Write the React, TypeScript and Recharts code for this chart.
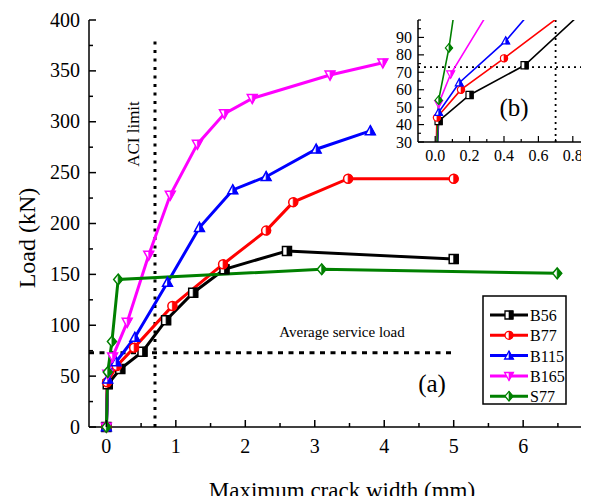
import React from "react";
import { LineChart, Line, XAxis, YAxis, ReferenceLine } from "recharts";

// crack width (mm) / load (kN)
const b56Width = [0, 0.02, 0.2, 0.52, 0.86, 1.25, 1.7, 2.6, 5.0];
const b56Load = [0, 42, 57, 74, 105, 132, 155, 173, 165];
const b77Width = [0, 0.01, 0.15, 0.4, 0.95, 1.68, 2.3, 2.69, 3.48, 5.0];
const b77Load = [0, 44, 60, 78, 119, 160, 193, 221, 244, 244];
const b115Width = [0, 0.02, 0.14, 0.41, 0.88, 1.34, 1.82, 2.3, 3.02, 3.8];
const b115Load = [0, 47, 64, 88, 142, 196, 233, 246, 273, 291];
const b165Width = [0, 0.02, 0.09, 0.3, 0.61, 0.92, 1.31, 1.7, 2.1, 3.22, 3.98];
const b165Load = [0, 52, 69, 103, 169, 228, 278, 308, 323, 346, 358];
const s77Width = [0, 0.02, 0.08, 0.17, 3.1, 6.49];
const s77Load = [0, 54, 84, 145, 155, 151];

const mainXTicks = [0, 0.5, 1, 1.5, 2, 2.5, 3, 3.5, 4, 4.5, 5, 5.5, 6, 6.5, 7];
const mainYTicks = [0, 25, 50, 75, 100, 125, 150, 175, 200, 225, 250, 275, 300, 325, 350, 375, 400];
const insetXTicks = [0, 0.1, 0.2, 0.3, 0.4, 0.5, 0.6, 0.7, 0.8];
const insetYTicks = [30, 35, 40, 45, 50, 55, 60, 65, 70, 75, 80, 85, 90, 95, 100];
const insetYLabels = [30, 40, 50, 60, 70, 80, 90];
const insetXLabels = [0, 0.2, 0.4, 0.6, 0.8];

const serviceLoad = 73;
const aciLimit = 0.7;

const zip = (xs: number[], ys: number[]) => xs.map((x, i) => ({ x, y: ys[i] }));

const series = [
  { name: "B56", color: "#000000", shape: "square", data: zip(b56Width, b56Load) },
  { name: "B77", color: "#ff0000", shape: "circle", data: zip(b77Width, b77Load) },
  { name: "B115", color: "#0000ff", shape: "up", data: zip(b115Width, b115Load) },
  { name: "B165", color: "#ff00ff", shape: "down", data: zip(b165Width, b165Load) },
  { name: "S77", color: "#008000", shape: "diamond", data: zip(s77Width, s77Load) },
];

const serif = { fontFamily: '"Liberation Serif", "DejaVu Serif", serif' };

function Marker({ cx, cy, r, shape, color, sw }: any) {
  if (cx == null || cy == null) return null;
  let outline = "";
  let half = "";
  if (shape === "square") {
    outline = `M${cx - r},${cy - r}H${cx + r}V${cy + r}H${cx - r}Z`;
    half = `M${cx},${cy - r}H${cx + r}V${cy + r}H${cx}Z`;
  } else if (shape === "circle") {
    outline = `M${cx - r},${cy}A${r},${r} 0 1 0 ${cx + r},${cy}A${r},${r} 0 1 0 ${cx - r},${cy}Z`;
    half = `M${cx},${cy - r}A${r},${r} 0 0 1 ${cx},${cy + r}Z`;
  } else if (shape === "up") {
    outline = `M${cx},${cy - r * 1.15}L${cx + r * 1.1},${cy + r * 0.85}L${cx - r * 1.1},${cy + r * 0.85}Z`;
    half = `M${cx},${cy - r * 1.15}L${cx + r * 1.1},${cy + r * 0.85}L${cx},${cy + r * 0.85}Z`;
  } else if (shape === "down") {
    outline = `M${cx},${cy + r * 1.15}L${cx + r * 1.1},${cy - r * 0.85}L${cx - r * 1.1},${cy - r * 0.85}Z`;
    half = `M${cx},${cy + r * 1.15}L${cx + r * 1.1},${cy - r * 0.85}L${cx},${cy - r * 0.85}Z`;
  } else {
    outline = `M${cx},${cy - r * 1.2}L${cx + r},${cy}L${cx},${cy + r * 1.2}L${cx - r},${cy}Z`;
    half = `M${cx},${cy - r * 1.2}L${cx + r},${cy}L${cx},${cy + r * 1.2}Z`;
  }
  return (
    <g>
      <path d={outline} fill="#fff" stroke={color} strokeWidth={sw} />
      <path d={half} fill={color} stroke={color} strokeWidth={sw * 0.5} />
    </g>
  );
}

const makeDot = (shape: string, color: string, r: number, sw: number) => (p: any) => (
  <Marker key={`d-${p.index}`} cx={p.cx} cy={p.cy} r={r} shape={shape} color={color} sw={sw} />
);

function MainXTick({ x, y, payload }: any) {
  const major = Number.isInteger(payload.value);
  return (
    <g>
      <line x1={x} x2={x} y1={y} y2={y - (major ? 7 : 4)} stroke="#000" strokeWidth={1.5} />
      {major && (
        <text x={x} y={y + 26} textAnchor="middle" fontSize={20} style={serif} fill="#000">
          {payload.value}
        </text>
      )}
    </g>
  );
}

function MainTopTick({ x, y, payload }: any) {
  const major = Number.isInteger(payload.value);
  return <line x1={x} x2={x} y1={y} y2={y + (major ? 7 : 4)} stroke="#000" strokeWidth={1.5} />;
}

function MainYTick({ x, y, payload }: any) {
  const major = payload.value % 50 === 0;
  return (
    <g>
      <line x1={x} x2={x + (major ? 7 : 4)} y1={y} y2={y} stroke="#000" strokeWidth={1.5} />
      {major && (
        <text x={x - 9} y={y + 6.5} textAnchor="end" fontSize={20} style={serif} fill="#000">
          {payload.value}
        </text>
      )}
    </g>
  );
}

function InsetXTick({ x, y, payload }: any) {
  const major = insetXLabels.includes(payload.value);
  return (
    <g>
      <line x1={x} x2={x} y1={y} y2={y - (major ? 6 : 3)} stroke="#000" strokeWidth={1.2} />
      {major && (
        <text x={x} y={y + 19} textAnchor="middle" fontSize={16} style={serif} fill="#000">
          {payload.value.toFixed(1)}
        </text>
      )}
    </g>
  );
}

function InsetTopTick({ x, y, payload }: any) {
  const major = insetXLabels.includes(payload.value);
  return <line x1={x} x2={x} y1={y} y2={y + (major ? 6 : 3)} stroke="#000" strokeWidth={1.2} />;
}

function InsetYTick({ x, y, payload }: any) {
  const major = insetYLabels.includes(payload.value);
  return (
    <g>
      <line x1={x} x2={x + (major ? 6 : 3)} y1={y} y2={y} stroke="#000" strokeWidth={1.2} />
      {major && (
        <text x={x - 6} y={y + 5.5} textAnchor="end" fontSize={16} style={serif} fill="#000">
          {payload.value}
        </text>
      )}
    </g>
  );
}

export default function App() {
  return (
    <div style={{ position: "relative", width: 589, height: 504, overflow: "hidden", margin: -8, background: "#fff" }}>
      <div style={{ position: "absolute", left: 0, top: 0 }}>
        <LineChart width={615} height={504} margin={{ top: 20, right: 5, bottom: 47, left: 0 }}>
          <XAxis
            xAxisId="b"
            dataKey="x"
            type="number"
            domain={[-0.25, 7.25]}
            ticks={mainXTicks}
            interval={0}
            height={30}
            tickSize={0}
            tickMargin={0}
            tick={MainXTick}
            axisLine={{ stroke: "#000", strokeWidth: 1.5 }}
          />
          <XAxis
            xAxisId="t"
            orientation="top"
            dataKey="x"
            type="number"
            domain={[-0.25, 7.25]}
            ticks={mainXTicks}
            interval={0}
            height={0}
            tickSize={0}
            tickMargin={0}
            tick={MainTopTick}
            axisLine={{ stroke: "#000", strokeWidth: 1.5 }}
          />
          <YAxis
            dataKey="y"
            type="number"
            domain={[0, 400]}
            ticks={mainYTicks}
            interval={0}
            width={89}
            tickSize={0}
            tickMargin={0}
            tick={MainYTick}
            axisLine={{ stroke: "#000", strokeWidth: 1.5 }}
          />
          <ReferenceLine
            xAxisId="b"
            segment={[{ x: aciLimit, y: 0 }, { x: aciLimit, y: 380 }]}
            stroke="#000"
            strokeWidth={3}
            strokeDasharray="3 5.5"
          />
          <ReferenceLine
            xAxisId="b"
            segment={[{ x: -0.25, y: serviceLoad }, { x: 5.0, y: serviceLoad }]}
            stroke="#000"
            strokeWidth={3}
            strokeDasharray="5 5.5"
          />
          {series.map((s) => (
            <Line
              key={s.name}
              xAxisId="b"
              data={s.data}
              dataKey="y"
              stroke={s.color}
              strokeWidth={3}
              dot={makeDot(s.shape, s.color, 4.5, 1.5)}
              activeDot={false}
              isAnimationActive={false}
            />
          ))}
        </LineChart>
      </div>

      <div style={{ position: "absolute", left: 392, top: 21, width: 197, height: 146, background: "#fff" }} />

      <div style={{ position: "absolute", left: 378, top: 0 }}>
        <LineChart width={215} height={170} margin={{ top: 20, right: 3, bottom: 8, left: 0 }}>
          <XAxis
            xAxisId="b"
            dataKey="x"
            type="number"
            domain={[-0.1, 0.9]}
            allowDataOverflow
            ticks={insetXTicks}
            interval={0}
            height={20}
            tickSize={0}
            tickMargin={0}
            tick={InsetXTick}
            axisLine={{ stroke: "#000", strokeWidth: 1.5 }}
          />
          <XAxis
            xAxisId="t"
            orientation="top"
            dataKey="x"
            type="number"
            domain={[-0.1, 0.9]}
            allowDataOverflow
            ticks={insetXTicks}
            interval={0}
            height={0}
            tickSize={0}
            tickMargin={0}
            tick={InsetTopTick}
            axisLine={{ stroke: "#000", strokeWidth: 1.5 }}
          />
          <YAxis
            dataKey="y"
            type="number"
            domain={[30, 100]}
            allowDataOverflow
            ticks={insetYTicks}
            interval={0}
            width={40}
            tickSize={0}
            tickMargin={0}
            tick={InsetYTick}
            axisLine={{ stroke: "#000", strokeWidth: 1.5 }}
          />
          <ReferenceLine xAxisId="b" y={serviceLoad} stroke="#000" strokeWidth={1.8} strokeDasharray="2 4" />
          <ReferenceLine xAxisId="b" x={aciLimit} stroke="#000" strokeWidth={1.8} strokeDasharray="2 4" />
          {series.map((s) => (
            <Line
              key={s.name}
              xAxisId="b"
              data={s.data}
              dataKey="y"
              stroke={s.color}
              strokeWidth={1.6}
              dot={makeDot(s.shape, s.color, 3.6, 1.2)}
              activeDot={false}
              isAnimationActive={false}
            />
          ))}
        </LineChart>
      </div>

      <svg width={589} height={504} style={{ position: "absolute", left: 0, top: 0, pointerEvents: "none" }}>
        <text transform="translate(35,238) rotate(-90)" textAnchor="middle" fontSize={24} style={serif} fill="#000">
          Load (kN)
        </text>
        <text x={342} y={498} textAnchor="middle" fontSize={23} style={serif} fill="#000">
          Maximum crack width (mm)
        </text>
        <text transform="translate(139,134) rotate(-90)" textAnchor="middle" fontSize={17} style={serif} fill="#000">
          ACI limit
        </text>
        <text x={342} y={337} textAnchor="middle" fontSize={15} style={serif} fill="#000">
          Average service load
        </text>
        <text x={432} y={392} textAnchor="middle" fontSize={25} style={serif} fill="#000">
          (a)
        </text>
        <text x={514} y={116} textAnchor="middle" fontSize={25} style={serif} fill="#000">
          (b)
        </text>
        <rect x={483} y={296} width={83} height={108} fill="#fff" stroke="#000" strokeWidth={1.5} />
        {series.map((s, i) => {
          const ly = 315 + i * 20.3;
          return (
            <g key={s.name}>
              <line x1={490} x2={528} y1={ly} y2={ly} stroke={s.color} strokeWidth={3} />
              <Marker cx={509} cy={ly} r={4} shape={s.shape} color={s.color} sw={1.3} />
              <text x={530} y={ly + 6} fontSize={16} style={serif} fill="#000">
                {s.name}
              </text>
            </g>
          );
        })}
      </svg>
    </div>
  );
}
